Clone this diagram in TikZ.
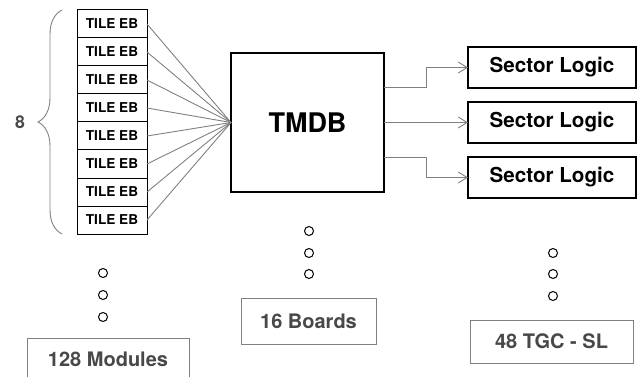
\documentclass[tikz,border=0pt]{standalone}
\usepackage{fontspec}
\setmainfont{TeX Gyre Heros}
\usepackage{tikz}
\usetikzlibrary{arrows.meta,positioning,decorations.pathreplacing}
\definecolor{wire}{RGB}{128, 128, 128}
\definecolor{note}{RGB}{72, 72, 72}
\tikzstyle{tile} = [rectangle, draw=black, line width=1pt, minimum width=70pt, minimum height=28pt, inner sep=0pt, outer sep=0pt, font=\bfseries\fontsize{13.6}{15}\selectfont]
\tikzstyle{board} = [rectangle, draw=black, line width=1.2pt, minimum width=153pt, minimum height=139pt, outer sep=0pt, font=\bfseries\fontsize{27}{30}\selectfont]
\tikzstyle{logic} = [rectangle, draw=black, line width=1.2pt, minimum width=168pt, minimum height=41pt, outer sep=0pt, font=\bfseries\fontsize{20.6}{22}\selectfont]
\tikzstyle{count} = [rectangle, draw=wire, line width=1pt, text=note, font=\bfseries\fontsize{20}{22}\selectfont]
\tikzstyle{textonly} = [draw=none, fill=none, text=note, font=\bfseries\fontsize{17.6}{19}\selectfont]
\tikzstyle{more} = [circle, draw=black, line width=1pt, minimum size=9pt, inner sep=0pt]
\tikzstyle{wedge} = [draw=wire, line width=0.9pt]
\tikzstyle{tedge} = [draw=wire, line width=0.9pt, ->, >={Straight Barb[length=9pt,width=11pt]}]

\begin{document}
\begin{tikzpicture}[x=1pt, y=-1pt]
\useasboundingbox (0,0) rectangle (637,377);

% boxes =============================
\node[board] (tmdb) at (307.5,122.5) {TMDB};
\node[tile] (t1) at (112,24) {TILE EB};
\node[tile, below=0pt of t1] (t2) {TILE EB};
\node[tile, below=0pt of t2] (t3) {TILE EB};
\node[tile, below=0pt of t3] (t4) {TILE EB};
\node[tile, below=0pt of t4] (t5) {TILE EB};
\node[tile, below=0pt of t5] (t6) {TILE EB};
\node[tile, below=0pt of t6] (t7) {TILE EB};
\node[tile, below=0pt of t7] (t8) {TILE EB};
\node[logic, right=84pt of tmdb] (sl2) {Sector Logic};
\node[logic, above=14pt of sl2] (sl1) {Sector Logic};
\node[logic, below=14pt of sl2] (sl3) {Sector Logic};
\node[textonly] (eight) at (20,122) {8};

% counts =============================
\node[more] (m1) at (103,273) {};
\node[more] (m2) at (103,295) {};
\node[more] (m3) at (103,317) {};
\node[more] (b1) at (309,231) {};
\node[more] (b2) at (309,253) {};
\node[more] (b3) at (309,274) {};
\node[more] (s1) at (553,253) {};
\node[more] (s2) at (553,274) {};
\node[more] (s3) at (553,296) {};
\node[count, minimum width=162pt, minimum height=42pt] (modules) at (108,359) {128 Modules};
\node[count, minimum width=135pt, minimum height=46pt] (boards) at (308.5,321) {16 Boards};
\node[count, minimum width=163pt, minimum height=43pt] (sectors) at (551.5,341.5) {48 TGC - SL};

% edges =============================
\path[wedge] (t1.east) -- (tmdb.west);
\path[wedge] (t2.east) -- (tmdb.west);
\path[wedge] (t3.east) -- (tmdb.west);
\path[wedge] (t4.east) -- (tmdb.west);
\path[wedge] (t5.east) -- (tmdb.west);
\path[wedge] (t6.east) -- (tmdb.west);
\path[wedge] (t7.east) -- (tmdb.west);
\path[wedge] (t8.east) -- (tmdb.west);
\path[tedge] ([yshift=35pt]tmdb.east) -- ++(42,0) |- (sl1.west);
\path[tedge] (tmdb.east) -- (sl2.west);
\path[tedge] ([yshift=-35pt]tmdb.east) -- ++(42,0) |- (sl3.west);
\draw[wire, line width=0.9pt, decorate, decoration={brace, amplitude=24pt}] ([xshift=-15pt]t8.south west) -- ([xshift=-15pt]t1.north west);

\end{tikzpicture}
\end{document}
